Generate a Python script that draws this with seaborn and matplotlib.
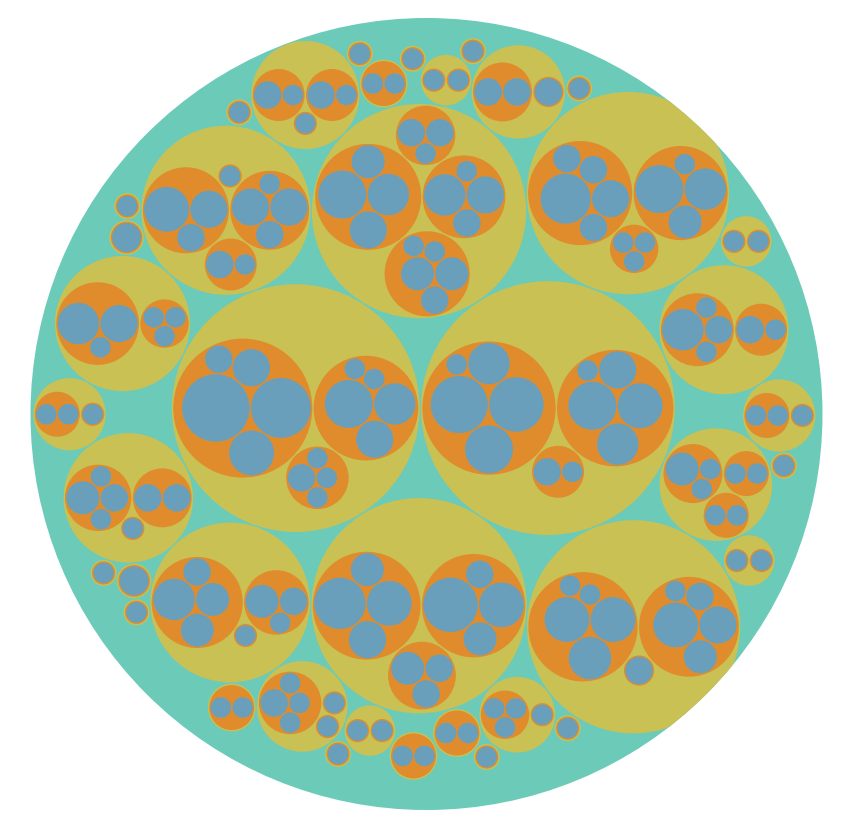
import math
import numpy as np
import pandas as pd
import seaborn as sns
import matplotlib.pyplot as plt
from matplotlib.patches import Circle

# leaf sizes (area units), one list per orange group
group_leaves = [
    [10.9, 8.6, 4.8, 3.3, 1.8], [5.5, 4.1, 3.3, 1, 1], [1.8, 1, 1, 1],
    [7.8, 7.1, 5.5, 4.1, 1], [5.5, 4.8, 4.1, 3.3, 1], [1.8, 1],
    [6.3, 4.8, 3.3, 2.6], [7.1, 4.8, 2.6, 1.8], [2.6, 1.8, 1.8],
    [5.5, 4.1, 3.3, 2.6], [4.1, 3.3, 1.8, 1], [2.6, 2.6, 1.8, 1, 1], [1.8, 1.8, 1],
    [4.8, 4.8, 4.3, 1, 1], [4.8, 3.3, 2.6, 1.8, 1], [1.8],
    [6.0, 3.3, 1.8, 1.8, 1.8], [5.5, 4.1, 2.6, 1], [1, 1, 1],
    [4.8, 3.3, 1.8], [3.3, 3.3, 1.8, 1], [1.8, 1], [1],
    [4.1, 2.6, 2.6, 1.8], [2.6, 1.8, 1], [1],
    [4.1, 3.3, 1], [1, 1, 1],
    [4.1, 1.8, 1, 1], [1.8, 1],
    [2.6, 1.8, 1, 1], [1.8, 1.8], [1],
    [2.6, 1, 1], [1, 1], [1, 1],
    [1.8, 1], [1.8, 1], [1],
    [1.8, 1.8], [1.8],
    [1.8, 1, 1, 1], [1], [1],
    [1, 1, 1], [1],
    [1, 1], [1],
    [1, 1], [1],
    [1], [1],
    [2],
    [1, 1],
    [1, 1],
    [1], [1],
    [2],
    [1], [1],
    [1], [1],
    [1, 1],
    [1, 1],
    [1], [1], [1], [1], [1], [1], [1], [1], [1], [1], [1], [1],
]

# how many orange groups sit in each yellow cluster (in the same order)
groups_per_cluster = [3, 3, 3, 4, 3, 3, 4, 3, 2, 2, 3, 3, 3, 2, 3, 2, 2, 2,
                      2, 1, 1, 1, 2, 1, 2, 2, 1, 1,
                      1, 1, 1, 1, 1, 1, 1, 1, 1, 1, 1, 1]

depth_colors = ["#6CCBB8", "#C9C153", "#E08C2D", "#6A9FBC"]

LAYOUT_SIZE = 800
LAYOUT_CENTER = (432, 415.5)
FRAME = (426.5, 414, 396)   # outer circle, the rest is clipped to it
PADDING = 1.5


class Node:
    def __init__(self, value=0.0, children=None):
        self.value = value
        self.children = children or []
        self.x = 0.0
        self.y = 0.0
        self.r = 0.0
        self.depth = 0


class Link:
    def __init__(self, c):
        self.c = c
        self.next = None
        self.prev = None


def place(b, a, c):
    dx = b.x - a.x
    dy = b.y - a.y
    d2 = dx * dx + dy * dy
    if d2:
        a2 = (a.r + c.r) ** 2
        b2 = (b.r + c.r) ** 2
        if a2 > b2:
            x = (d2 + b2 - a2) / (2 * d2)
            y = math.sqrt(max(0, b2 / d2 - x * x))
            c.x = b.x - x * dx - y * dy
            c.y = b.y - x * dy + y * dx
        else:
            x = (d2 + a2 - b2) / (2 * d2)
            y = math.sqrt(max(0, a2 / d2 - x * x))
            c.x = a.x + x * dx - y * dy
            c.y = a.y + x * dy + y * dx
    else:
        c.x = a.x + c.r
        c.y = a.y


def intersects(a, b):
    dr = a.r + b.r - 1e-6
    dx = b.x - a.x
    dy = b.y - a.y
    return dr > 0 and dr * dr > dx * dx + dy * dy


def score(node):
    a = node.c
    b = node.next.c
    ab = a.r + b.r
    dx = (a.x * b.r + b.x * a.r) / ab
    dy = (a.y * b.r + b.y * a.r) / ab
    return dx * dx + dy * dy


# minimum enclosing circle of circles (x, y, r)
def encloses_weak(a, b):
    dr = a[2] - b[2] + max(a[2], b[2], 1) * 1e-9
    dx = b[0] - a[0]
    dy = b[1] - a[1]
    return dr > 0 and dr * dr > dx * dx + dy * dy


def encloses_not(a, b):
    dr = a[2] - b[2]
    dx = b[0] - a[0]
    dy = b[1] - a[1]
    return dr < 0 or dr * dr < dx * dx + dy * dy


def encloses_weak_all(a, B):
    return all(encloses_weak(a, p) for p in B)


def basis2(a, b):
    x1, y1, r1 = a
    x2, y2, r2 = b
    x21, y21, r21 = x2 - x1, y2 - y1, r2 - r1
    l = math.sqrt(x21 * x21 + y21 * y21)
    return ((x1 + x2 + x21 / l * r21) / 2, (y1 + y2 + y21 / l * r21) / 2, (l + r1 + r2) / 2)


def basis3(a, b, c):
    x1, y1, r1 = a
    x2, y2, r2 = b
    x3, y3, r3 = c
    a2 = x1 - x2
    a3 = x1 - x3
    b2 = y1 - y2
    b3 = y1 - y3
    c2 = r2 - r1
    c3 = r3 - r1
    d1 = x1 * x1 + y1 * y1 - r1 * r1
    d2 = d1 - x2 * x2 - y2 * y2 + r2 * r2
    d3 = d1 - x3 * x3 - y3 * y3 + r3 * r3
    ab = a3 * b2 - a2 * b3
    xa = (b2 * d3 - b3 * d2) / (ab * 2) - x1
    xb = (b3 * c2 - b2 * c3) / ab
    ya = (a3 * d2 - a2 * d3) / (ab * 2) - y1
    yb = (a2 * c3 - a3 * c2) / ab
    A = xb * xb + yb * yb - 1
    B = 2 * (r1 + xa * xb + ya * yb)
    C = xa * xa + ya * ya - r1 * r1
    if abs(A) > 1e-6:
        r = -(B + math.sqrt(B * B - 4 * A * C)) / (2 * A)
    else:
        r = -(C / B)
    return (x1 + xa + xb * r, y1 + ya + yb * r, r)


def basis(B):
    if len(B) == 1:
        return B[0]
    if len(B) == 2:
        return basis2(B[0], B[1])
    return basis3(B[0], B[1], B[2])


def extend_basis(B, p):
    if encloses_weak_all(p, B):
        return [p]
    for i in range(len(B)):
        if encloses_not(p, B[i]) and encloses_weak_all(basis2(B[i], p), B):
            return [B[i], p]
    for i in range(len(B) - 1):
        for j in range(i + 1, len(B)):
            if (encloses_not(basis2(B[i], B[j]), p)
                    and encloses_not(basis2(B[i], p), B[j])
                    and encloses_not(basis2(B[j], p), B[i])
                    and encloses_weak_all(basis3(B[i], B[j], p), B)):
                return [B[i], B[j], p]
    raise ValueError("enclose failed")


def enclose(circles):
    i, n, B, e = 0, len(circles), [], None
    while i < n:
        p = circles[i]
        if e is not None and encloses_weak(e, p):
            i += 1
        else:
            B = extend_basis(B, p)
            e = basis(B)
            i = 0
    return e


def pack_siblings(circles):
    n = len(circles)
    a = circles[0]
    a.x, a.y = 0.0, 0.0
    if n == 1:
        return a.r
    b = circles[1]
    a.x = -b.r
    b.x, b.y = a.r, 0.0
    if n == 2:
        return a.r + b.r
    place(b, a, circles[2])
    a, b, c = Link(a), Link(b), Link(circles[2])
    a.next = c.prev = b
    b.next = a.prev = c
    c.next = b.prev = a

    i = 3
    while i < n:
        place(a.c, b.c, circles[i])
        c = Link(circles[i])
        j, k, sj, sk = b.next, a.prev, b.c.r, a.c.r
        retry = False
        while True:
            if sj <= sk:
                if intersects(j.c, c.c):
                    b = j
                    a.next = b
                    b.prev = a
                    retry = True
                    break
                sj += j.c.r
                j = j.next
            else:
                if intersects(k.c, c.c):
                    a = k
                    a.next = b
                    b.prev = a
                    retry = True
                    break
                sk += k.c.r
                k = k.prev
            if j is k.next:
                break
        if retry:
            continue

        c.prev = a
        c.next = b
        a.next = c
        b.prev = c
        b = c
        aa = score(a)
        c = c.next
        while c is not b:
            ca = score(c)
            if ca < aa:
                a, aa = c, ca
            c = c.next
        b = a.next
        i += 1

    chain = [b.c]
    c = b.next
    while c is not b:
        chain.append(c.c)
        c = c.next
    e = enclose([(q.x, q.y, q.r) for q in chain])
    for q in circles:
        q.x -= e[0]
        q.y -= e[1]
    return e[2]


def post_order(node):
    for ch in node.children:
        yield from post_order(ch)
    yield node


def pre_order(node):
    yield node
    for ch in node.children:
        yield from pre_order(ch)


def pack_children(node, pad):
    if node.children:
        for ch in node.children:
            ch.r += pad
        e = pack_siblings(node.children)
        for ch in node.children:
            ch.r -= pad
        node.r = e + pad


def pack(root, size, padding):
    for nd in pre_order(root):
        if not nd.children:
            nd.r = math.sqrt(nd.value)
    for nd in post_order(root):
        pack_children(nd, 0)
    k = root.r / size
    for nd in post_order(root):
        pack_children(nd, padding * k)
    s = size / (2 * root.r)
    root.x, root.y = LAYOUT_CENTER
    for nd in pre_order(root):
        nd.r *= s
        for ch in nd.children:
            ch.x = nd.x + s * ch.x
            ch.y = nd.y + s * ch.y


# build the hierarchy root -> cluster -> group -> leaf
clusters = []
gi = 0
for count in groups_per_cluster:
    groups = []
    for leaves in group_leaves[gi:gi + count]:
        groups.append(Node(children=[Node(v) for v in leaves]))
    gi += count
    clusters.append(Node(children=groups))
root = Node(children=clusters)

for nd in post_order(root):
    if nd.children:
        nd.value = sum(ch.value for ch in nd.children)
        nd.children.sort(key=lambda ch: -ch.value)
for nd in pre_order(root):
    for ch in nd.children:
        ch.depth = nd.depth + 1

pack(root, LAYOUT_SIZE, PADDING)
root.x, root.y, root.r = FRAME

df = pd.DataFrame([(nd.x, nd.y, nd.r, nd.depth) for nd in pre_order(root)],
                  columns=["x", "y", "r", "depth"])

sns.set_theme(style="white")
palette = sns.color_palette(depth_colors)

fig = plt.figure(figsize=(8.52, 8.25), dpi=100)
ax = fig.add_axes([0, 0, 1, 1])
frame = None
for row in df.itertuples():
    patch = Circle((row.x, row.y), row.r, facecolor=palette[row.depth],
                   edgecolor="none")
    ax.add_patch(patch)
    if frame is None:
        frame = patch
    else:
        patch.set_clip_path(frame)
ax.set_xlim(0, 852)
ax.set_ylim(825, 0)
ax.set_aspect("equal")
ax.axis("off")
plt.savefig("out.png", dpi=100, facecolor="white")
